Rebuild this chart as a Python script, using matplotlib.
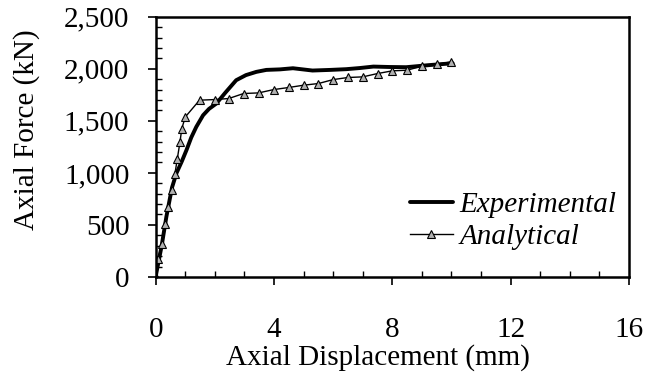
import matplotlib
matplotlib.use("Agg")
import matplotlib.pyplot as plt
from matplotlib.ticker import MultipleLocator, FuncFormatter

# experimental curve (thick line)
exp_disp = [0.0, 0.02, 0.2, 0.36, 0.55, 0.70, 0.88, 1.04, 1.2, 1.37, 1.6, 1.8, 2.05, 2.35, 2.72, 3.05, 3.4,
            3.74, 4.2, 4.64, 5.3, 5.9, 6.44, 6.9, 7.36, 7.9, 8.47, 9.2, 10.04]
exp_force = [0, 38, 300, 580, 860, 997, 1110, 1220, 1340, 1442, 1554, 1615, 1667, 1770, 1891, 1940, 1971,
             1990, 1995, 2006, 1984, 1990, 1997, 2008, 2022, 2018, 2016, 2035, 2054]

# analytical curve (triangle markers)
ana_disp = [0.0, 0.08, 0.2, 0.31, 0.43, 0.54, 0.65, 0.73, 0.82, 0.88, 1.0, 1.48, 2.01, 2.47, 2.97, 3.48,
            3.99, 4.5, 5.0, 5.5, 6.0, 6.5, 7.0, 7.5, 8.0, 8.5, 9.0, 9.5, 10.0]
ana_force = [0, 176, 320, 513, 673, 833, 994, 1138, 1298, 1426, 1538, 1699, 1705, 1715, 1763, 1769,
             1801, 1821, 1843, 1859, 1897, 1917, 1923, 1955, 1981, 1987, 2026, 2045, 2067]

plt.rcParams['font.family'] = ['Liberation Serif', 'DejaVu Serif']

fig = plt.figure(figsize=(6.49, 3.83), dpi=100)
ax = fig.add_axes([0.240, 0.277, 0.729, 0.679])

ax.plot(exp_disp, exp_force, color='black', lw=2.8, label='Experimental', solid_capstyle='round')
ax.plot(ana_disp, ana_force, color='black', lw=1.0, marker='^', ms=6, mfc='#b0b0b0', mec='black',
        mew=0.8, label='Analytical')

ax.set_xlim(0, 16)
ax.set_ylim(0, 2500)
ax.xaxis.set_major_locator(MultipleLocator(4))
ax.xaxis.set_minor_locator(MultipleLocator(1))
ax.yaxis.set_major_locator(MultipleLocator(500))
ax.yaxis.set_minor_locator(MultipleLocator(100))
ax.yaxis.set_major_formatter(FuncFormatter(lambda v, p: f"{int(v):,}"))

ax.tick_params(which='major', direction='out', length=6, width=1.2, labelsize=21)
ax.tick_params(axis='x', which='major', pad=23)
ax.tick_params(axis='y', which='major', pad=13)
ax.tick_params(which='minor', direction='in', length=4, width=1.0)
for s in ax.spines.values():
    s.set_linewidth(1.8)

ax.set_xlabel('Axial Displacement (mm)', fontsize=21)
ax.xaxis.set_label_coords(0.47, -0.26)
ax.set_ylabel('Axial Force (kN)', fontsize=21)
ax.yaxis.set_label_coords(-0.245, 0.565)

leg = ax.legend(loc='center right', bbox_to_anchor=(1.004, 0.215), frameon=False, borderpad=0,
                handlelength=1.5, handletextpad=0.2, labelspacing=0.2,
                prop={'style': 'italic', 'size': 21})

plt.savefig('out.png', dpi=100)
